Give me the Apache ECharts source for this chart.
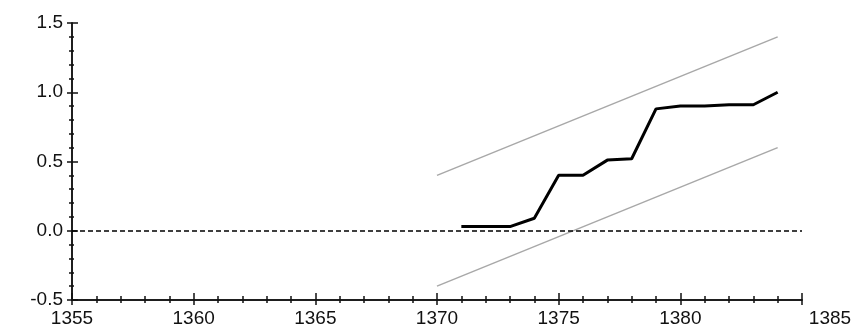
<!DOCTYPE html>
<html>
<head>
<meta charset="utf-8">
<script src="https://cdn.jsdelivr.net/npm/echarts@6/dist/echarts.min.js"></script>
<style>
html,body{margin:0;padding:0;background:#fff;}
#chart{width:856px;height:329px;}
</style>
</head>
<body>
<div id="chart"></div>
<script>
// ---- data ----
const years = [1371, 1372, 1373, 1374, 1375, 1376, 1377, 1378, 1379, 1380, 1381, 1382, 1383, 1384];
const observed = [0.03, 0.03, 0.03, 0.09, 0.40, 0.40, 0.51, 0.52, 0.88, 0.90, 0.90, 0.91, 0.91, 1.00];
const boundYears = [1370, 1384];
const upperBound = [0.4, 1.4];
const lowerBound = [-0.4, 0.6];
const referenceLevel = 0;
const xMin = 1355, xMax = 1385, xStep = 5;
const yMin = -0.5, yMax = 1.5, yStep = 0.5;

const pairs = (xs, ys) => xs.map((x, i) => [x, ys[i]]);
const FONT = 'Liberation Sans';
const FS = 19;
const TXT = '#111';
const AX = '#111';

const grid = {left: 72, right: 54, top: 23, bottom: 29, outerBoundsMode: 'none', containLabel: false};

const baseX = {
  type: 'value', min: xMin, max: xMax, interval: xStep,
  position: 'bottom',
  splitLine: {show: false},
  axisLine: {onZero: false, lineStyle: {color: AX, width: 1.5}}
};
const baseY = {
  type: 'value', min: yMin, max: yMax, interval: yStep,
  position: 'left',
  splitLine: {show: false},
  axisLine: {onZero: false, lineStyle: {color: AX, width: 1.5}}
};

const option = {
  animation: false,
  backgroundColor: '#fff',
  grid: grid,
  xAxis: [
    Object.assign({}, baseX, {
      axisTick: {show: true, inside: true, length: 7, lineStyle: {color: AX, width: 1.5}},
      minorTick: {show: true, splitNumber: 5, length: 4, lineStyle: {color: AX, width: 1.5}},
      axisLabel: {
        margin: 9, color: TXT, fontFamily: FONT, fontSize: FS,
        showMaxLabel: true, hideOverlap: false,
        formatter: v => v === xMax ? '{last|' + v + '}' : String(v),
        rich: {last: {padding: [0, 0, 0, 56], fontFamily: FONT, fontSize: FS, color: TXT}}
      }
    }),
    Object.assign({}, baseX, {
      axisTick: {show: true, inside: false, length: 5, lineStyle: {color: AX, width: 1.5}},
      minorTick: {show: true, splitNumber: 5, length: 3, lineStyle: {color: AX, width: 1.5}},
      axisLabel: {show: false}
    })
  ],
  yAxis: [
    Object.assign({}, baseY, {
      axisTick: {show: true, inside: false, length: 5, lineStyle: {color: AX, width: 1.5}},
      minorTick: {show: true, splitNumber: 5, length: 3, lineStyle: {color: AX, width: 1.5}},
      axisLabel: {
        margin: 9, color: TXT, fontFamily: FONT, fontSize: FS,
        formatter: v => v.toFixed(1)
      }
    }),
    Object.assign({}, baseY, {
      axisTick: {show: true, inside: true, length: 6, lineStyle: {color: AX, width: 1.5}},
      minorTick: {show: true, splitNumber: 5, length: 2, lineStyle: {color: AX, width: 1.5}},
      axisLabel: {show: false}
    })
  ],
  series: [
    {
      type: 'line', name: 'upper', data: pairs(boundYears, upperBound),
      showSymbol: false, lineStyle: {color: '#a8a8a8', width: 1.5}
    },
    {
      type: 'line', name: 'lower', data: pairs(boundYears, lowerBound),
      showSymbol: false, lineStyle: {color: '#a8a8a8', width: 1.5}
    },
    {
      type: 'line', name: 'observed', data: pairs(years, observed),
      showSymbol: false, lineStyle: {color: '#000', width: 3},
      z: 5,
      markLine: {
        silent: true, symbol: 'none', label: {show: false},
        lineStyle: {color: '#000', width: 1.5, type: [5, 3]},
        data: [{yAxis: referenceLevel}]
      }
    }
  ]
};

const chart = echarts.init(document.getElementById('chart'), null, {renderer: 'canvas'});
chart.setOption(option);
</script>
</body>
</html>
